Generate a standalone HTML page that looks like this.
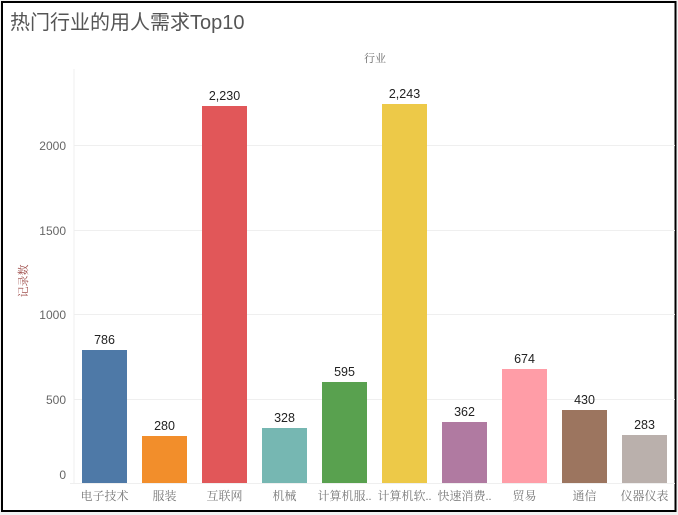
<!DOCTYPE html>
<html><head><meta charset="utf-8"><style>
html,body{margin:0;padding:0;background:#fff;}
svg{display:block;}
text{font-family:"Liberation Sans","Noto Sans CJK SC",sans-serif;}
text.cj{font-family:"Liberation Serif","Noto Serif CJK SC","IPAGothic",serif;}
</style></head><body>
<svg width="678" height="515" viewBox="0 0 678 515" xmlns="http://www.w3.org/2000/svg">
<rect x="0" y="0" width="678" height="515" fill="#f2f2f2"/>
<rect x="2" y="2" width="673.5" height="509" fill="#fff" stroke="#000" stroke-width="2"/>
<text x="10" y="29" font-size="20" fill="#555">热门行业的用人需求Top10</text>
<text x="375" y="62" font-size="11" fill="#666" text-anchor="middle" class="cj">行业</text>
<text transform="translate(27,281) rotate(-90)" font-size="11" fill="#a0504d" text-anchor="middle" class="cj">记录数</text>
<g stroke="#efefef" stroke-width="1">
<line x1="74" y1="69" x2="74" y2="483"/>
<line x1="74" y1="145.5" x2="675" y2="145.5"/>
<line x1="74" y1="230.5" x2="675" y2="230.5"/>
<line x1="74" y1="314.5" x2="675" y2="314.5"/>
<line x1="74" y1="399.5" x2="675" y2="399.5"/>
<line x1="70" y1="483.5" x2="675" y2="483.5"/>
</g>
<g font-size="12" fill="#666" text-anchor="end">
<text x="66" y="150">2000</text>
<text x="66" y="235">1500</text>
<text x="66" y="319">1000</text>
<text x="66" y="404">500</text>
<text x="66" y="479">0</text>
</g>
<g>
<rect x="82" y="350" width="45" height="133" fill="#4e79a7"/>
<rect x="142" y="436" width="45" height="47" fill="#f28e2b"/>
<rect x="202" y="106" width="45" height="377" fill="#e15759"/>
<rect x="262" y="428" width="45" height="55" fill="#76b7b2"/>
<rect x="322" y="382" width="45" height="101" fill="#59a14f"/>
<rect x="382" y="104" width="45" height="379" fill="#edc948"/>
<rect x="442" y="422" width="45" height="61" fill="#b07aa1"/>
<rect x="502" y="369" width="45" height="114" fill="#ff9da7"/>
<rect x="562" y="410" width="45" height="73" fill="#9c755f"/>
<rect x="622" y="435" width="45" height="48" fill="#bab0ac"/>
</g>
<g font-size="12.5" fill="#222" text-anchor="middle">
<text x="104.5" y="344">786</text>
<text x="164.5" y="430">280</text>
<text x="224.5" y="100">2,230</text>
<text x="284.5" y="422">328</text>
<text x="344.5" y="376">595</text>
<text x="404.5" y="98">2,243</text>
<text x="464.5" y="416">362</text>
<text x="524.5" y="363">674</text>
<text x="584.5" y="404">430</text>
<text x="644.5" y="429">283</text>
</g>
<g font-size="12" fill="#777" text-anchor="middle">
<text class="cj" x="104.5" y="500">电子技术</text>
<text class="cj" x="164.5" y="500">服装</text>
<text class="cj" x="224.5" y="500">互联网</text>
<text class="cj" x="284.5" y="500">机械</text>
<text class="cj" x="344.5" y="500">计算机服..</text>
<text class="cj" x="404.5" y="500">计算机软..</text>
<text class="cj" x="464.5" y="500">快速消费..</text>
<text class="cj" x="524.5" y="500">贸易</text>
<text class="cj" x="584.5" y="500">通信</text>
<text class="cj" x="644.5" y="500">仪器仪表</text>
</g>
</svg>
</body></html>
